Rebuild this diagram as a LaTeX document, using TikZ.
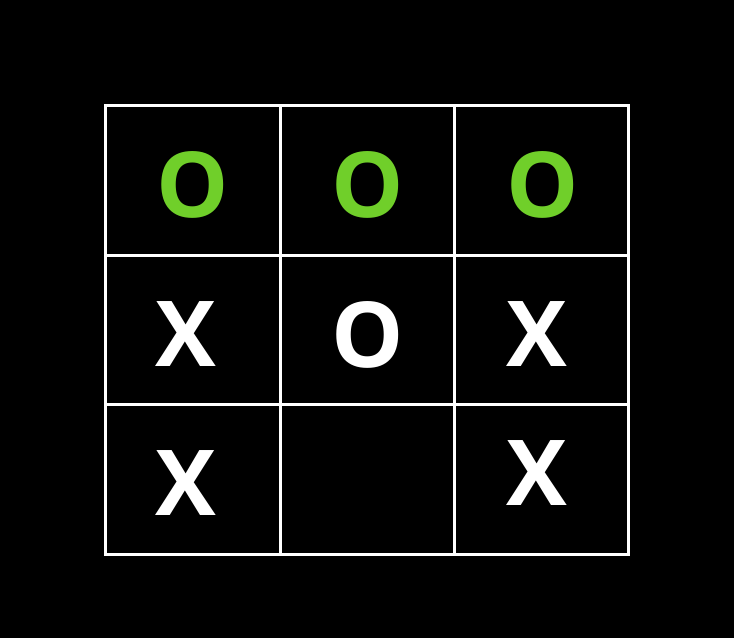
\documentclass[tikz,border=0pt]{standalone}
\usepackage{fontspec}
\setmainfont{Open Sans}
\definecolor{wingreen}{RGB}{112,207,42}
\tikzset{
  piece/.style={inner sep=0pt, text depth=0pt, anchor=center,
    font=\fontsize{91}{91}\selectfont\bfseries, text=white},
  winpiece/.style={piece, text=wingreen},
  gridline/.style={draw=white, line width=3pt}
}
\begin{document}
\begin{tikzpicture}[x=1pt, y=-1pt]
\fill[black](0,0) rectangle (734,638);
\useasboundingbox (0,0) rectangle (734,638);
% board
\draw[gridline](105,105) rectangle (628,554);
\foreach \x in {280,454}
{
    \draw[gridline](\x,105)--(\x,554);
}
\foreach \y in {255,404}
{
    \draw[gridline](105,\y)--(628,\y);
}
% top row wins
\node[winpiece] (a1) at (193,185) {O};
\node[winpiece] (a2) at (368,185) {O};
\node[winpiece] (a3) at (543,185) {O};
% middle row
\node[piece] (b1) at (186,334) {X};
\node[piece] (b2) at (368,334) {O};
\node[piece] (b3) at (537,334) {X};
% bottom row
\node[piece] (c1) at (186,483) {X};
\node[piece] (c3) at (537,473) {X};
\end{tikzpicture}
\end{document}
